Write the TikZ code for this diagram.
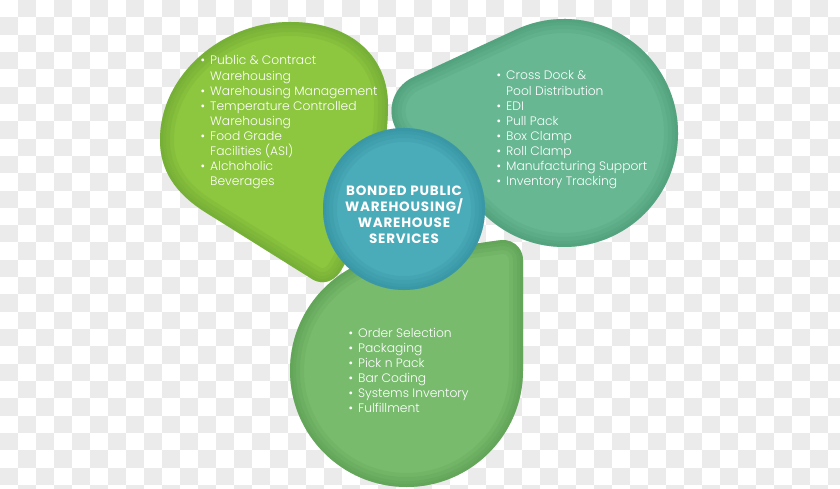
\documentclass[tikz,border=0pt]{standalone}
\usepackage{fontspec}
\setmainfont{Poppins}
\newfontfamily\lightfont{Poppins Light}
\usetikzlibrary{calc}

\definecolor{checkgray}{HTML}{EBEBEB}
\definecolor{limegreen}{HTML}{8DC63F}
\definecolor{limedark}{HTML}{5E9A2E}
\definecolor{seagreen}{HTML}{67B792}
\definecolor{seadark}{HTML}{3E8E6A}
\definecolor{leafgreen}{HTML}{78BB6D}
\definecolor{leafdark}{HTML}{4E9148}
\definecolor{hubteal}{HTML}{4AABB9}
\definecolor{hubdark}{HTML}{2A8594}

\newcommand\bul{\llap{\textbullet\hspace{5pt}}}

% centre x, centre y, radius, tip x, tip y, tip radius -> \dpath
\newcommand\dropcalc[6]{%
  \pgfmathsetmacro\dphi{atan2(#5-#2,#4-#1)}%
  \pgfmathsetmacro\ddist{veclen(#4-#1,#5-#2)}%
  \pgfmathsetmacro\dalpha{acos((#3-#6)/\ddist)}%
  \pgfmathsetmacro\dsa{\dphi+\dalpha}%
  \pgfmathsetmacro\dsb{\dphi+360-\dalpha}%
  \pgfmathsetmacro\dsc{\dphi+360+\dalpha}%
  \def\dpath{([shift={(\dsa:#3)}]#1,#2) arc[start angle=\dsa, end angle=\dsb, radius=#3]
    -- ([shift={(\dsb:#6)}]#4,#5) arc[start angle=\dsb, end angle=\dsc, radius=#6] -- cycle}%
}
% path, fill, rim
\newcommand\skin[3]{%
  \fill[#2] #1;
  \begin{scope}
    \clip #1;
    \foreach \w in {28,20,12,6} \draw[#3, line width=\w pt, opacity=0.14] #1;
  \end{scope}
}

\begin{document}
\begin{tikzpicture}[x=1pt,y=-1pt,
  item/.style={anchor=base west, inner sep=0pt, text=white, font=\lightfont\fontsize{12.3}{15}\selectfont}]
\useasboundingbox (0,0) rectangle (840,489);
% checker background
\fill[white] (0,0) rectangle (840,489);
\begin{scope}
\clip (0,0) rectangle (840,489);
\foreach \i in {0,...,46}
  \foreach \j in {0,...,28}{
    \pgfmathtruncatemacro\odd{mod(\i+\j,2)}
    \ifnum\odd=1 \fill[checkgray] (18*\i,17.32*\j) rectangle ++(18,17.32); \fi
  }
\end{scope}

% lime drop
\skin{(290,22) .. controls (355,22) and (388,60) .. (388,105)
  .. controls (388,170) and (360,240) .. (340,272)
  .. controls (333,282) and (322,285.3) .. (312,279) -- (205,212)
  .. controls (175,193) and (160,170) .. (160,140)
  .. controls (160,75) and (222,22) .. (290,22) -- cycle}{limegreen}{limedark}
% sea drop
\dropcalc{564}{133}{114}{428.5}{111}{37}
\skin{\dpath}{seagreen}{seadark}
% leaf drop
\dropcalc{406.5}{370.5}{116.5}{503}{260}{20}
\skin{\dpath}{leafgreen}{leafdark}

% hub
\skin{(404,209) circle[radius=81]}{hubteal}{hubdark}
\node (hubtext) [align=center, inner sep=0pt, text=white,
  font=\bfseries\fontsize{13.5}{16.3}\selectfont\addfontfeatures{LetterSpace=6}]
  at (404,214.75) {BONDED PUBLIC\\WAREHOUSING/\\WAREHOUSE\\SERVICES};

% lists
\foreach \t [count=\k from 0] in {{\bul Public \& Contract},{Warehousing},{\bul Warehousing Management},
  {\bul Temperature Controlled},{Warehousing},{\bul Food Grade},{Facilities (ASI)},{\bul Alchoholic},{Beverages}}
  \node[item] (lime\k) at (210,65+15.1*\k) {\t};
\foreach \t [count=\k from 0] in {{\bul Cross Dock \&},{Pool Distribution},{\bul EDI},{\bul Pull Pack},
  {\bul Box Clamp},{\bul Roll Clamp},{\bul Manufacturing Support},{\bul Inventory Tracking}}
  \node[item] (sea\k) at (506,80+15.1*\k) {\t};
\foreach \t [count=\k from 0] in {{\bul Order Selection},{\bul Packaging},{\bul Pick n Pack},
  {\bul Bar Coding},{\bul Systems Inventory},{\bul Fulfillment}}
  \node[item] (leaf\k) at (358,337+15*\k) {\t};
\end{tikzpicture}
\end{document}
